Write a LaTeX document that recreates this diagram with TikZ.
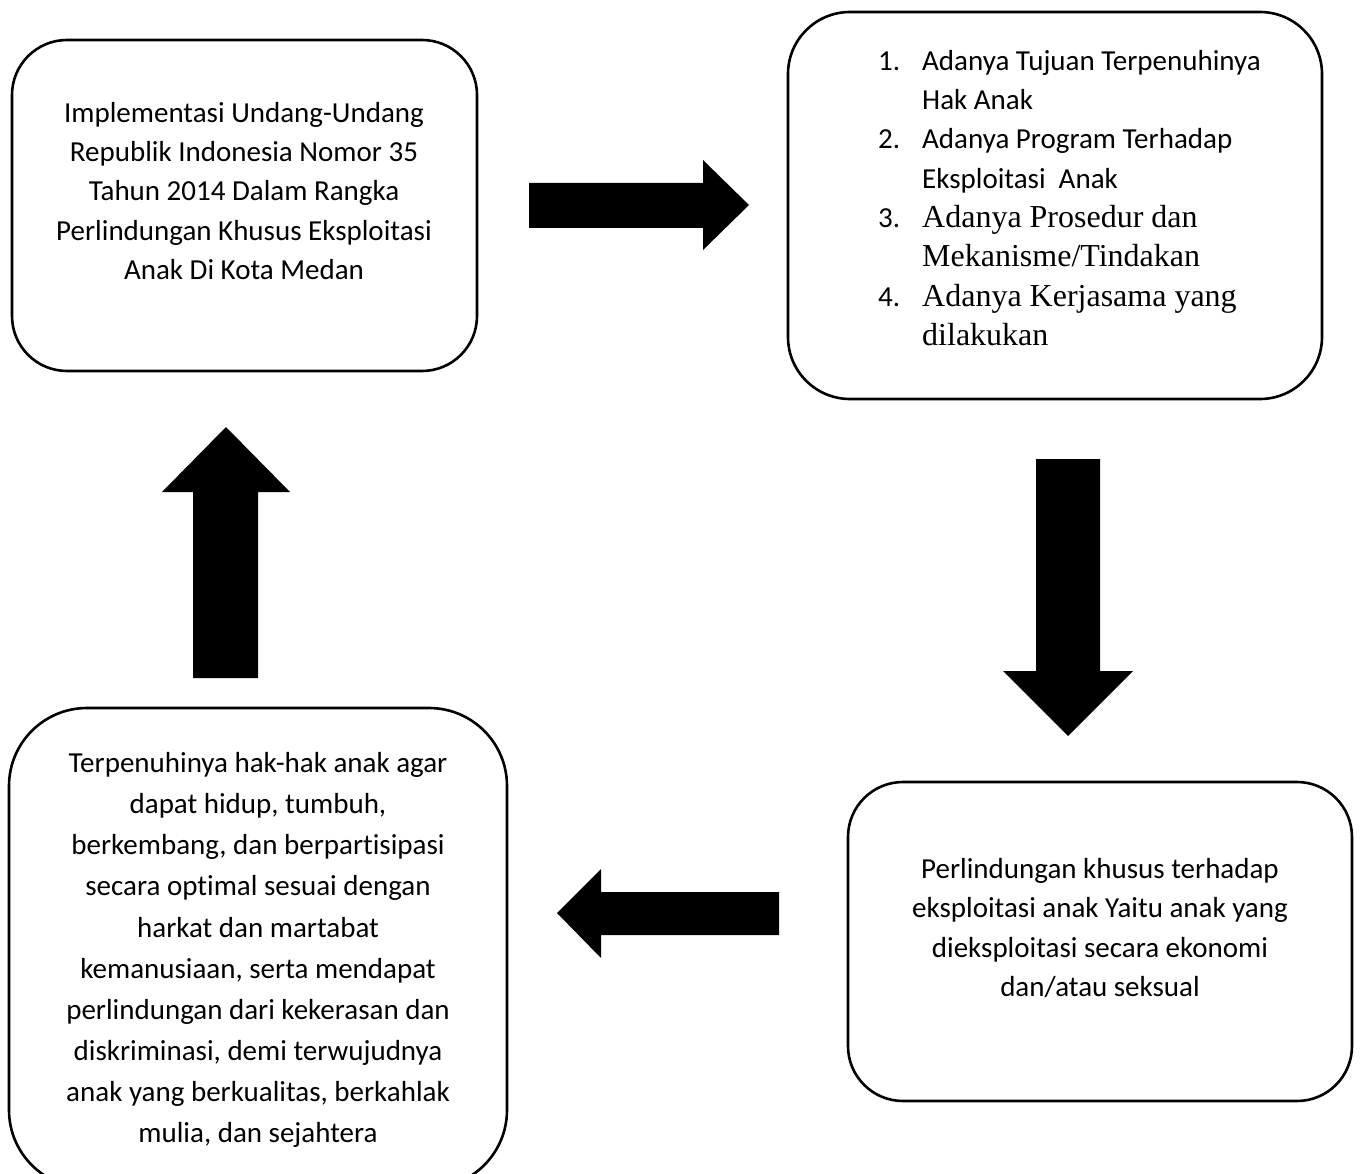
\documentclass[tikz,border=0pt]{standalone}
\usepackage{fontspec}
\setmainfont{Carlito}[Ligatures=NoCommon]
\newfontfamily\timesfont{Liberation Serif}
\begin{document}
\begin{tikzpicture}[x=1pt,y=-1pt,
  box/.style={draw=black,line width=2.6pt},
  txt/.style={align=center,inner sep=0pt,font=\fontsize{29}{39.3}\selectfont},
  listtxt/.style={align=left,inner sep=0pt,font=\fontsize{29}{39.3}\selectfont},
  blockarrow/.style={fill=black,draw=none}]
\useasboundingbox (0,0) rectangle (1360,1174);
\fill[white] (0,0) rectangle (1360,1174);
% boxes
\draw[box,rounded corners=55pt] (12,40) rectangle (477,371);
\draw[box,rounded corners=62pt] (788,12) rectangle (1322,399);
\draw[box,rounded corners=55pt] (848,782) rectangle (1352,1101);
\draw[box,rounded corners=78pt] (9,708) rectangle (507,1188);
% texts
\node[txt] (t1) at (244,191) {Implementasi Undang-Undang\\Republik Indonesia Nomor 35\\Tahun 2014 Dalam Rangka\\Perlindungan Khusus Eksploitasi\\Anak Di Kota Medan};
\node[listtxt,anchor=north west] (t2) at (878,50) {%
\makebox[44pt][l]{1.}Adanya Tujuan Terpenuhinya\\
\hspace*{44pt}Hak Anak\\
\makebox[44pt][l]{2.}Adanya Program Terhadap\\
\hspace*{44pt}Eksploitasi\ \ Anak\\
\makebox[44pt][l]{3.}{\timesfont\fontsize{32}{39.3}\selectfont Adanya Prosedur dan}\\
\hspace*{44pt}{\timesfont\fontsize{32}{39.3}\selectfont Mekanisme/Tindakan}\\
\makebox[44pt][l]{4.}{\timesfont\fontsize{32}{39.3}\selectfont Adanya Kerjasama yang}\\
\hspace*{44pt}{\timesfont\fontsize{32}{39.3}\selectfont dilakukan}};
\node[txt] (t3) at (1100,928) {Perlindungan khusus terhadap\\eksploitasi anak Yaitu anak yang\\dieksploitasi secara ekonomi\\dan/atau seksual};
\node[txt,font=\fontsize{29}{41.1}\selectfont] (t4) at (258,950) {Terpenuhinya hak-hak anak agar\\dapat hidup, tumbuh,\\berkembang, dan berpartisipasi\\secara optimal sesuai dengan\\harkat dan martabat\\kemanusiaan, serta mendapat\\perlindungan dari kekerasan dan\\diskriminasi, demi terwujudnya\\anak yang berkualitas, berkahlak\\mulia, dan sejahtera};
% block arrows
\fill[blockarrow] (529,183) -- (703,183) -- (703,160) -- (749,205) -- (703,250) -- (703,228) -- (529,228) -- cycle;
\fill[blockarrow] (1036,459) -- (1100,459) -- (1100,671) -- (1133,671) -- (1068,736) -- (1003,671) -- (1036,671) -- cycle;
\fill[blockarrow] (779,892) -- (601,892) -- (601,869) -- (557,913) -- (601,958) -- (601,935) -- (779,935) -- cycle;
\fill[blockarrow] (193,678) -- (193,492) -- (162,492) -- (226,427) -- (290,492) -- (258,492) -- (258,678) -- cycle;
\end{tikzpicture}
\end{document}
